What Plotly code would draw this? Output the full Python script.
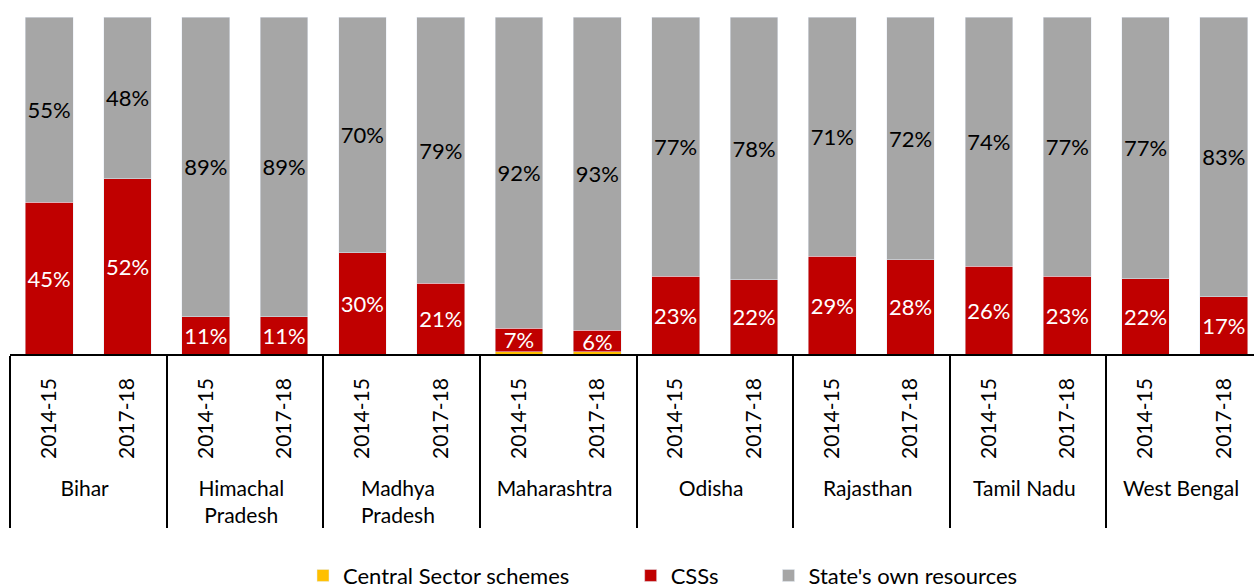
import plotly.graph_objects as go

states = ["Bihar", "Himachal<br>Pradesh", "Madhya<br>Pradesh", "Maharashtra",
          "Odisha", "Rajasthan", "Tamil Nadu", "West Bengal"]
years = ["2014-15", "2017-18"]

# shares of funding, %, in order state x year
central_sector = [0, 0, 0, 0, 0, 0, 0.7, 0.6, 0, 0, 0, 0, 0, 0, 0, 0]
css = [45, 52, 11, 11, 30, 21, 7, 6.4, 23, 22, 29, 28, 26, 23, 22.4, 17]
state_own = [55, 48, 89, 89, 70, 79, 92.3, 93, 77, 78, 71, 72, 74, 77, 77.49, 83]

NB = "\u00a0"
# leading spaces push the state names a little further below the rotated years
x = [[s for s in states for _ in years], [NB * 2 + y for _ in states for y in years]]

FONT = "Lato"

fig = go.Figure()
fig.add_trace(go.Bar(x=x, y=central_sector, name="Central Sector schemes" + NB * 10,
                     marker_color="#FFC000", texttemplate=""))
fig.add_trace(go.Bar(x=x, y=css, name="CSSs" + NB * 8, marker_color="#C00000",
                     texttemplate="%{y:.0f}%", textposition="inside",
                     insidetextanchor="middle", textangle=0,
                     textfont=dict(color="white", size=22, family=FONT)))
fig.add_trace(go.Bar(x=x, y=state_own, name="State's own resources",
                     marker_color="#A6A6A6",
                     texttemplate="%{y:.0f}%", textposition="inside",
                     insidetextanchor="middle", textangle=0,
                     textfont=dict(color="black", size=22, family=FONT)))

fig.update_layout(
    barmode="stack",
    bargap=0.39,
    width=1254,
    height=588,
    margin=dict(l=10, r=0, t=17, b=234),
    paper_bgcolor="white",
    plot_bgcolor="white",
    font=dict(family=FONT, size=22, color="black"),
    uniformtext=dict(minsize=22, mode="show"),
    showlegend=True,
    legend=dict(orientation="h", traceorder="normal",
                xref="container", yref="container",
                x=303 / 1254, xanchor="left", y=0.021, yanchor="middle",
                font=dict(size=22, family=FONT)),
)
fig.update_xaxes(
    type="multicategory",
    range=[-0.5, 15.385],
    tickangle=-90,
    automargin=False,
    showline=True, linecolor="black", linewidth=1.5,
    showdividers=True, dividercolor="black", dividerwidth=1.5,
    ticklabelstandoff=14,
    tickfont=dict(size=21, family=FONT),
)
fig.update_yaxes(range=[0, 100], visible=False)

fig.write_html("out.html", config={"displayModeBar": False},
               post_script="document.body.style.margin='0';")
